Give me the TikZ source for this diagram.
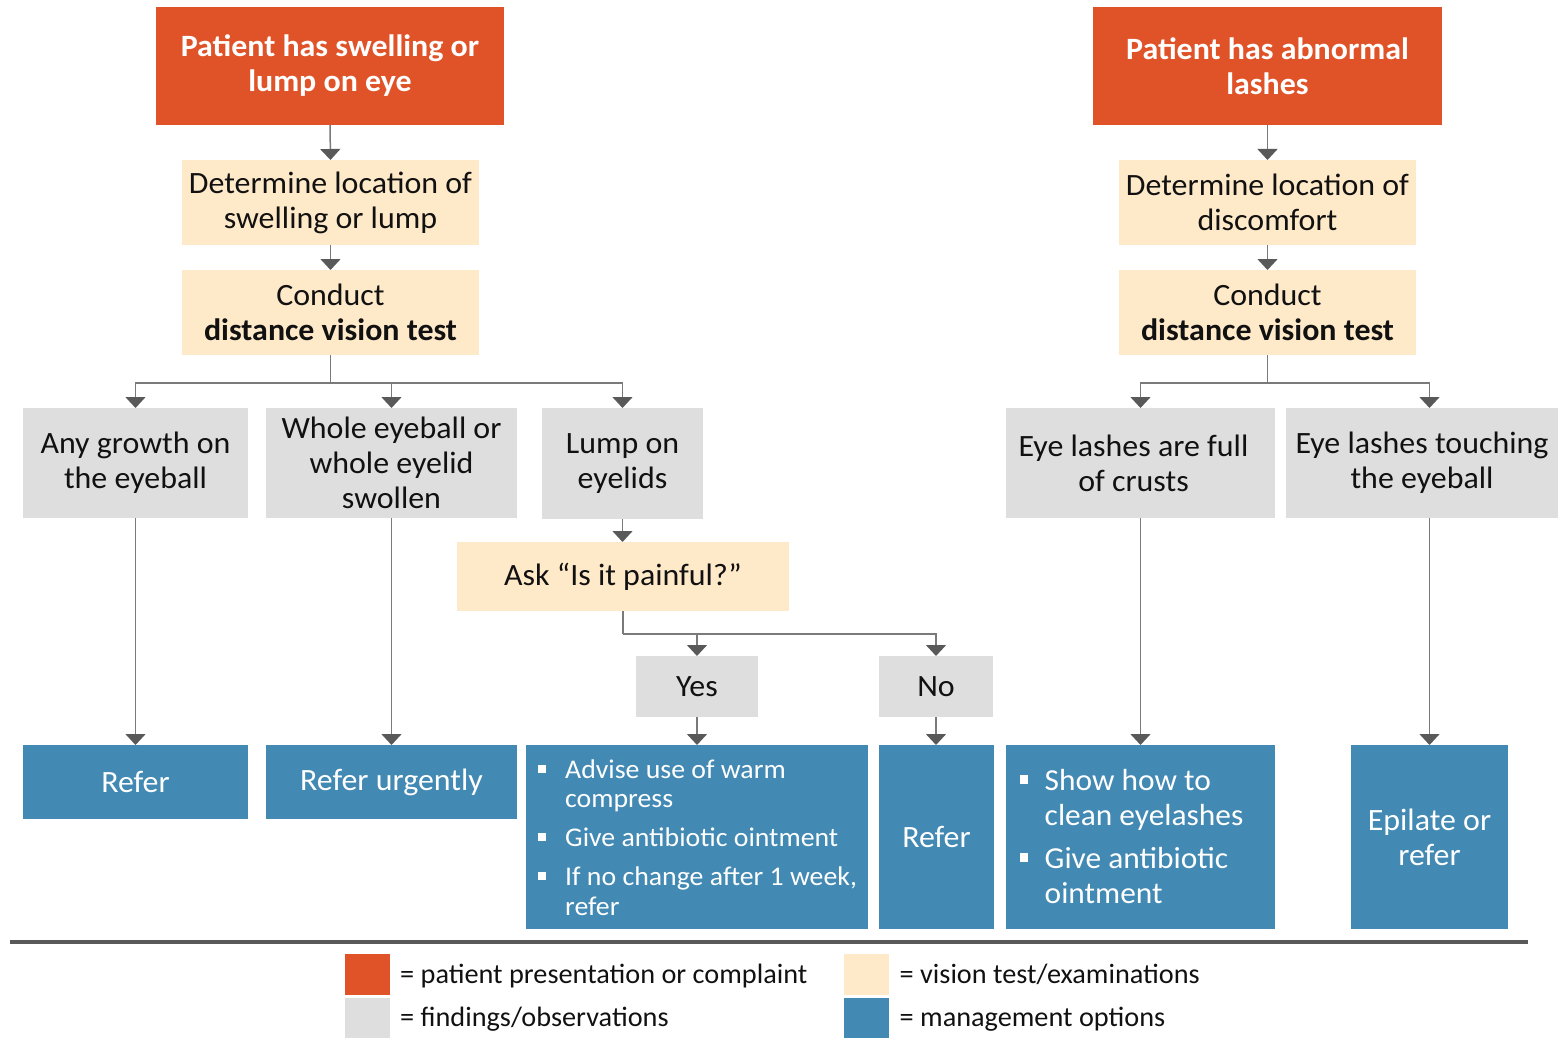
\documentclass[tikz,border=0pt]{standalone}
\usepackage{fontspec}
\setmainfont{Carlito}[FakeStretch=1.03]
\newfontfamily\keyfont{Carlito}[FakeStretch=1.01]
\usetikzlibrary{arrows.meta}

\definecolor{complaint}{HTML}{E05328}
\definecolor{exam}{HTML}{FEE9C9}
\definecolor{finding}{HTML}{DEDEDE}
\definecolor{manage}{HTML}{4289B3}
\definecolor{connector}{HTML}{7A7A7A}
\definecolor{tipgrey}{HTML}{595959}
\definecolor{ink}{HTML}{111111}

\newcommand\mainsize{\fontsize{31}{35}\selectfont}
% box from its corners: name, style, x1, y1, x2, y2, text
\newcommand\flowbox[7]{%
  \node[#2, minimum width={(#5)-(#3)}, minimum height={(#6)-(#4)}]
    (#1) at ({((#3)+(#5))/2},{((#4)+(#6))/2}) {#7};}
% square bullet cell: cell width, bullet offset, bullet raise, bullet size
\newcommand\sqmark[4]{%
  \makebox[#1][l]{\hspace*{#2}\raisebox{#3}{\rule{#4}{#4}}}}

\begin{document}
\begin{tikzpicture}[x=1pt,y=-1pt,
  box/.style={rectangle, inner sep=0pt, outer sep=0pt, align=center, font=\mainsize},
  complaintbox/.style={box, fill=complaint, text=white, font=\mainsize\bfseries},
  exambox/.style={box, fill=exam, text=ink},
  findingbox/.style={box, fill=finding, text=ink},
  managebox/.style={box, fill=manage, text=white},
  link/.style={draw=connector, line width=1.5pt,
    -{Triangle[width=20pt,length=11pt,color=tipgrey]}},
  trunk/.style={draw=connector, line width=1.5pt},
  swatch/.style={rectangle, inner sep=0pt, outer sep=0pt, minimum width=45pt},
  keytext/.style={anchor=base west, inner sep=0pt,
    font=\keyfont\fontsize{28}{32}\selectfont, text=ink},
  bullettext/.style={anchor=north west, inner sep=0pt, text=white},
]
\useasboundingbox (0,0) rectangle (1558,1038);

% ---- swelling or lump pathway
\flowbox{swell}{complaintbox}{156}{7}{504}{125}{Patient has swelling or\\lump on eye}
\flowbox{swloc}{exambox}{182}{160}{479}{245}{Determine location of\\swelling or lump}
\flowbox{swdva}{exambox}{182}{270}{479}{355}{Conduct\\\textbf{distance vision test}}

\flowbox{growth}{findingbox}{23}{408}{248}{518}{Any growth on\\the eyeball}
\flowbox{whole}{findingbox}{266}{408}{517}{518}{Whole eyeball or\\whole eyelid\\swollen}
\flowbox{lump}{findingbox}{542}{408}{703}{519}{Lump on\\eyelids}
\flowbox{ask}{exambox}{457}{542}{789}{611}{Ask “Is it painful?”}
\flowbox{yes}{findingbox}{636}{656}{758}{717}{Yes}
\flowbox{no}{findingbox}{879}{656}{993}{717}{No}

\flowbox{refA}{managebox}{23}{745}{248}{819}{Refer}
\flowbox{refU}{managebox}{266}{745}{517}{819}{Refer urgently}
\flowbox{warm}{managebox}{526}{745}{868}{929}{}
\flowbox{refB}{managebox}{879}{745}{994}{929}{Refer}

\node[bullettext, font=\fontsize{27}{29.3}\selectfont]
  (warmtext) at ([yshift=-12.8pt]warm.north west)
  {\begin{tabular}{@{}l@{}l@{}}
   \sqmark{39pt}{12pt}{6pt}{8pt} & Advise use of warm\\
   & compress\\[9.7pt]
   \sqmark{39pt}{12pt}{6pt}{8pt} & Give antibiotic ointment\\[9.7pt]
   \sqmark{39pt}{12pt}{6pt}{8pt} & If no change after 1 week,\\
   & refer
   \end{tabular}};

% ---- abnormal lashes pathway
\flowbox{lash}{complaintbox}{1093}{7}{1442}{125}{Patient has abnormal\\lashes}
\flowbox{lashloc}{exambox}{1119}{160}{1416}{245}{Determine location of\\discomfort}
\flowbox{lashdva}{exambox}{1119}{270}{1416}{355}{Conduct\\\textbf{distance vision test}}

\flowbox{crust}{findingbox}{1006}{408}{1275}{518}{Eye lashes are full\hspace*{14pt}\\of crusts\hspace*{14pt}}
\flowbox{touch}{findingbox}{1286}{408}{1558}{518}{Eye lashes touching\\the eyeball}

\flowbox{clean}{managebox}{1006}{745}{1275}{929}{}
\flowbox{epil}{managebox}{1351}{745}{1508}{929}{Epilate or\\refer}

\node[bullettext, font=\fontsize{30.5}{34.4}\selectfont]
  (cleantext) at ([yshift=-21.5pt]clean.north west)
  {\begin{tabular}{@{}l@{}l@{}}
   \sqmark{38.5pt}{13.5pt}{7pt}{8.5pt} & Show how to\\
   & clean eyelashes\\[9.2pt]
   \sqmark{38.5pt}{13.5pt}{7pt}{8.5pt} & Give antibiotic\\
   & ointment
   \end{tabular}};

% ---- connectors
\draw[link] (swell.south) -- (swloc.north);
\draw[link] (swloc.south) -- (swdva.north);
\coordinate (swsplit) at ([yshift=-28pt]swdva.south);
\draw[trunk] (swdva.south) -- (swsplit);
\draw[link] (swsplit) -| (growth.north);
\draw[link] (swsplit) -| (whole.north);
\draw[link] (swsplit) -| (lump.north);
\draw[link] (growth.south) -- (refA.north);
\draw[link] (whole.south) -- (refU.north);
\draw[link] (lump.south) -- (lump.south |- ask.north);
\coordinate (asksplit) at ([yshift=-23pt]ask.south);
\draw[trunk] (ask.south) -- (asksplit);
\draw[link] (asksplit) -| (yes.north);
\draw[link] (asksplit) -| (no.north);
\draw[link] (yes.south) -- (yes.south |- warm.north);
\draw[link] (no.south) -- (no.south |- refB.north);

\draw[link] (lash.south) -- (lashloc.north);
\draw[link] (lashloc.south) -- (lashdva.north);
\coordinate (lashsplit) at ([yshift=-28pt]lashdva.south);
\draw[trunk] (lashdva.south) -- (lashsplit);
\draw[link] (lashsplit) -| (crust.north);
\draw[link] (lashsplit) -| (touch.north -| epil.north);
\draw[link] (crust.south) -- (crust.south |- clean.north);
\draw[link] (touch.south -| epil.north) -- (epil.north);

% ---- key
\draw[line width=4pt, tipgrey] (10,942) -- (1528,942);
\node[swatch, fill=complaint, minimum height=41pt] (keyA) at (367.5,974.5) {};
\node[swatch, fill=finding, minimum height=40pt] (keyB) at (367.5,1018) {};
\node[swatch, fill=exam, minimum height=41pt] (keyC) at (866.5,974.5) {};
\node[swatch, fill=manage, minimum height=40pt] (keyD) at (866.5,1018) {};
\node[keytext] (keyAtext) at (400,983.2) {= patient presentation or complaint};
\node[keytext] (keyBtext) at (400,1026.5) {= findings/observations};
\node[keytext] (keyCtext) at (899.5,983.2) {= vision test/examinations};
\node[keytext] (keyDtext) at (899.5,1026.5) {= management options};
\end{tikzpicture}
\end{document}
